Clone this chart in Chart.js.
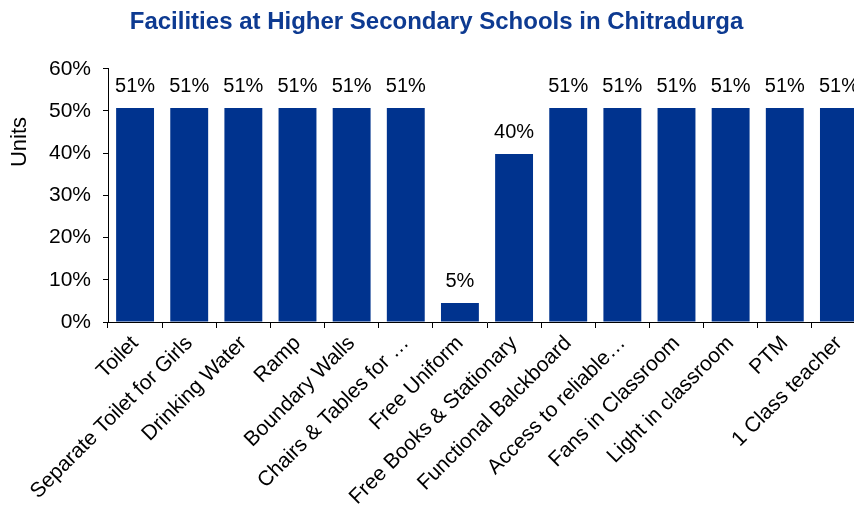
<!DOCTYPE html>
<html>
<head>
<meta charset="utf-8">
<script src="https://cdn.jsdelivr.net/npm/chart.js@4.4.0/dist/chart.umd.min.js"></script>
<style>
  html, body { margin: 0; padding: 0; background: #fff; overflow: hidden; }
  #wrap { width: 866px; height: 509px; }
</style>
</head>
<body>
<div id="wrap"><canvas id="c" width="866" height="509"></canvas></div>
<script>
const categories = [
  "Toilet", "Separate Toilet for Girls", "Drinking Water", "Ramp", "Boundary Walls",
  "Chairs & Tables for \u2026", "Free Uniform", "Free Books & Stationary",
  "Functional Balckboard", "Access to reliable\u2026", "Fans in Classroom",
  "Light in classroom", "PTM", "1 Class teacher"
];
const values = [0.507, 0.507, 0.507, 0.507, 0.507, 0.507, 0.045, 0.398, 0.507, 0.507, 0.507, 0.507, 0.507, 0.507];
const yTicks = [0, 0.1, 0.2, 0.3, 0.4, 0.5, 0.6];
const yTitle = 'Units';

const FONT = '"Liberation Sans", Arial, sans-serif';

const labelPlugin = {
  id: 'barLabels',
  afterDatasetsDraw(chart) {
    const ctx = chart.ctx;
    const meta = chart.getDatasetMeta(0);
    ctx.save();
    ctx.font = '20px ' + FONT;
    ctx.fillStyle = '#000';
    ctx.textAlign = 'center';
    ctx.textBaseline = 'alphabetic';
    meta.data.forEach((bar, i) => {
      ctx.fillText(Math.round(values[i] * 100) + '%', bar.x, bar.y - 16);
    });
    ctx.restore();
    // y-axis title
    ctx.save();
    ctx.font = '22px ' + FONT;
    ctx.fillStyle = '#000';
    ctx.textAlign = 'center';
    ctx.textBaseline = 'middle';
    ctx.translate(20, 142);
    ctx.rotate(-Math.PI / 2);
    ctx.fillText(yTitle, 0, 0);
    ctx.restore();
  }
};

new Chart(document.getElementById('c'), {
  type: 'bar',
  data: {
    labels: categories,
    datasets: [{
      data: values,
      backgroundColor: '#00338E',
      borderWidth: 0,
      barPercentage: 0.7,
      categoryPercentage: 1.0
    }]
  },
  options: {
    responsive: false,
    animation: false,
    layout: { padding: { left: 7, right: 0, top: 0, bottom: 0 } },
    plugins: {
      legend: { display: false },
      tooltip: { enabled: false },
      title: {
        display: true,
        text: 'Facilities at Higher Secondary Schools in Chitradurga',
        color: '#0D3A91',
        font: { family: FONT, size: 24, weight: 'bold' },
        padding: { top: 8, bottom: 32 }
      }
    },
    scales: {
      x: {
        grid: { display: true, drawOnChartArea: false, drawTicks: true, tickLength: 6, color: '#000', offset: true },
        border: { display: true, color: '#000', width: 1 },
        ticks: {
          color: '#000',
          font: { family: FONT, size: 21 },
          maxRotation: 45, minRotation: 45,
          autoSkip: false,
          padding: 3
        },
        afterFit(scale) { scale.height = 187; }
      },
      y: {
        min: 0, max: 0.6,
        afterBuildTicks(scale) { scale.ticks = yTicks.map(v => ({ value: v })); },
        grid: { display: true, drawOnChartArea: false, drawTicks: true, tickLength: 5, color: '#000' },
        border: { display: true, color: '#000', width: 1 },
        ticks: {
          color: '#000',
          font: { family: FONT, size: 21 },
          padding: 12,
          callback: v => Math.round(v * 100) + '%'
        },
        afterFit(scale) { scale.width = 101; }
      }
    }
  },
  plugins: [labelPlugin]
});
</script>
</body>
</html>
